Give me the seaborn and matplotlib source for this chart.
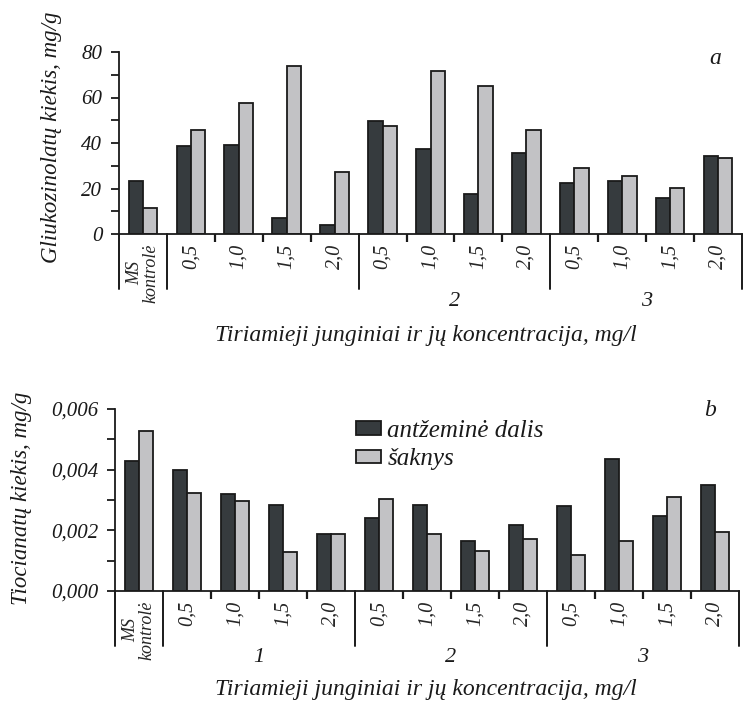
import matplotlib
matplotlib.use("Agg")
import matplotlib.pyplot as plt
import matplotlib.transforms as mtransforms
import seaborn as sns
import pandas as pd

# ---------------- data ----------------
categories = ["MS", "1-0,5", "1-1,0", "1-1,5", "1-2,0",
              "2-0,5", "2-1,0", "2-1,5", "2-2,0",
              "3-0,5", "3-1,0", "3-1,5", "3-2,0"]
tick_labels = ["MS\nkontrolė", "0,5", "1,0", "1,5", "2,0",
               "0,5", "1,0", "1,5", "2,0",
               "0,5", "1,0", "1,5", "2,0"]
series_names = ["antžeminė dalis", "šaknys"]

gluko_above = [23.2, 38.9, 39.0, 6.9, 4.0, 49.6, 37.3, 17.6, 35.7, 22.2, 23.2, 15.9, 34.5]
gluko_roots = [11.3, 45.8, 57.7, 74.0, 27.2, 47.4, 71.8, 65.0, 45.8, 28.8, 25.5, 20.4, 33.3]

tio_above = [0.00430, 0.00400, 0.00320, 0.00285, 0.00187, 0.00242, 0.00285, 0.00166,
             0.00218, 0.00281, 0.00435, 0.00248, 0.00350]
tio_roots = [0.00529, 0.00323, 0.00298, 0.00127, 0.00187, 0.00304, 0.00187, 0.00131,
             0.00170, 0.00120, 0.00166, 0.00311, 0.00195]

group_labels_top = {"2": 6.5, "3": 10.5}
group_labels_bottom = {"1": 2.5, "2": 6.5, "3": 10.5}

dark = "#353b3f"
light = "#c1c2c6"

# ---------------- style ----------------
sns.set_style("ticks")
plt.rcParams["font.family"] = ["Liberation Serif"]
plt.rcParams["font.style"] = "italic"
plt.rcParams["axes.linewidth"] = 1.3
plt.rcParams["axes.edgecolor"] = "#1a1a1a"
plt.rcParams["text.color"] = "#1a1a1a"

W, H = 743, 706
fig = plt.figure(figsize=(W / 100, H / 100), dpi=100)

ax1 = fig.add_axes([119 / W, (H - 234) / H, 623 / W, 182 / H])
ax2 = fig.add_axes([115 / W, (H - 591) / H, 624 / W, 182 / H])


def make_df(a, r):
    return pd.DataFrame({
        "cat": categories * 2,
        "value": list(a) + list(r),
        "series": [series_names[0]] * len(a) + [series_names[1]] * len(r),
    })


def style_axis(ax, ymax, yt, ylabels, group_labels, group_y):
    sns.despine(ax=ax, top=True, right=True)
    ax.set_xlim(-0.5, 12.5)
    ax.set_ylim(0, ymax)
    ax.set_xlabel("")
    ax.set_ylabel("")
    ax.set_yticks(yt, ylabels)
    ax.tick_params(axis="y", direction="out", length=6, width=1.3, pad=6,
                   labelsize=15, colors="#1a1a1a")
    ax.set_xticks(range(len(categories)), tick_labels)
    ax.tick_params(axis="x", which="major", length=0, pad=7, labelsize=14.5)
    for lab in ax.get_xticklabels():
        lab.set_rotation(90)
        lab.set_va("top")
        lab.set_ha("center")
    first = ax.get_xticklabels()[0]
    first.set_fontsize(13)
    first.set_linespacing(0.95)
    first.set_multialignment("center")
    ax.set_xticks([1.5, 2.5, 3.5, 5.5, 6.5, 7.5, 9.5, 10.5, 11.5], minor=True)
    ax.tick_params(axis="x", which="minor", direction="out", length=6, width=1.6,
                   color="#1a1a1a")
    tr = ax.get_xaxis_transform()
    for xs in [-0.5, 0.5, 4.5, 8.5, 12.5]:
        ax.plot([xs, xs], [0, -0.30], transform=tr, clip_on=False,
                color="#1a1a1a", lw=1.4)
    btr = mtransforms.blended_transform_factory(ax.transData, fig.transFigure)
    for t, xc in group_labels.items():
        ax.text(xc, group_y, t, transform=btr, ha="center", va="center", fontsize=16)


# ---------------- top panel ----------------
sns.barplot(data=make_df(gluko_above, gluko_roots), x="cat", y="value", hue="series",
            order=categories, hue_order=series_names, palette=[dark, light],
            width=0.6, edgecolor="#1a1a1a", linewidth=1.3, errorbar=None,
            legend=False, ax=ax1)
style_axis(ax1, 80, list(range(0, 81, 10)),
           ["0", "", "20", "", "40", "", "60", "", "80"],
           group_labels_top, (H - 301) / H)

# ---------------- bottom panel ----------------
sns.barplot(data=make_df(tio_above, tio_roots), x="cat", y="value", hue="series",
            order=categories, hue_order=series_names, palette=[dark, light],
            width=0.6, edgecolor="#1a1a1a", linewidth=1.3, errorbar=None,
            legend=True, ax=ax2)
yt2 = [0, 0.001, 0.002, 0.003, 0.004, 0.005, 0.006]
style_axis(ax2, 0.006, yt2,
           ["0,000", "", "0,002", "", "0,004", "", "0,006"],
           group_labels_bottom, (H - 657) / H)

handles, labels = ax2.get_legend_handles_labels()
ax2.legend(handles, labels, loc="upper left",
           bbox_to_anchor=((356 - 115) / 624, (591 - 420) / 182),
           frameon=False, borderpad=0, borderaxespad=0,
           handlelength=1.0, handleheight=0.45,
           handletextpad=0.25, labelspacing=0.25, fontsize=18)

# ---------------- labels ----------------
fig.text(52 / W, (H - 137) / H, "Gliukozinolatų kiekis, mg/g", rotation=90,
         ha="center", va="center", fontsize=16.5)
fig.text(22 / W, (H - 498) / H, "Tiocianatų kiekis, mg/g", rotation=90,
         ha="center", va="center", fontsize=16.5)
fig.text(426 / W, (H - 336) / H, "Tiriamieji junginiai ir jų koncentracija, mg/l",
         ha="center", va="center", fontsize=17)
fig.text(426 / W, (H - 690) / H, "Tiriamieji junginiai ir jų koncentracija, mg/l",
         ha="center", va="center", fontsize=17)
fig.text(715 / W, (H - 58) / H, "a", ha="center", va="center", fontsize=17)
fig.text(710 / W, (H - 410) / H, "b", ha="center", va="center", fontsize=17)

fig.savefig("out.png", dpi=100)
